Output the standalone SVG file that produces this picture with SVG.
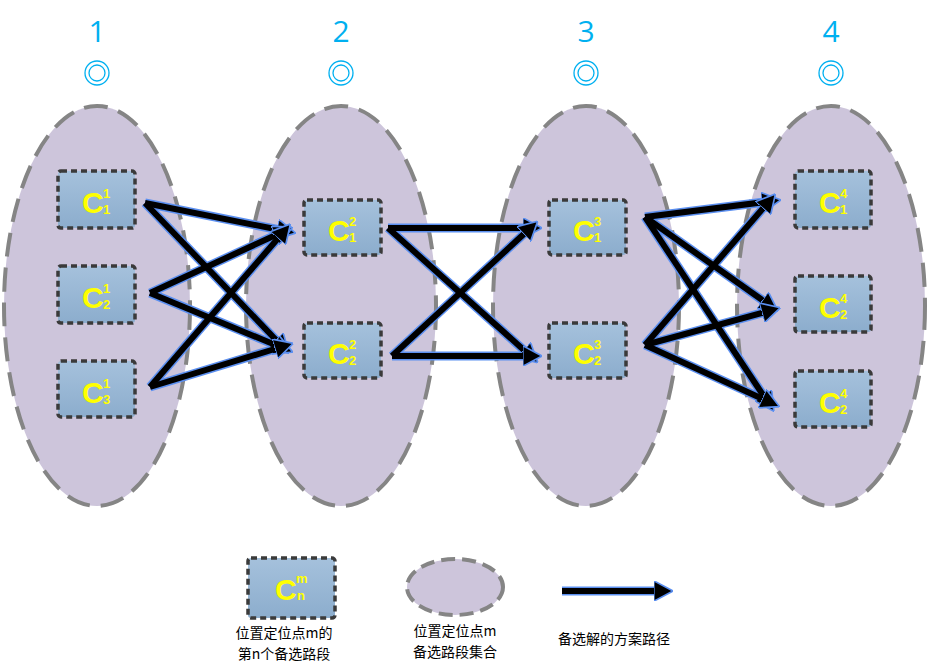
<svg xmlns="http://www.w3.org/2000/svg" width="932" height="666" viewBox="0 0 932 666">
<style>
.el{fill:#cdc5db;stroke:#858585;stroke-width:4;stroke-dasharray:24 11}
.bx{fill:url(#g);stroke:#3a3a3a;stroke-width:3.5;stroke-dasharray:6 4}
.c{font-family:"Liberation Sans",sans-serif;font-weight:bold;fill:#ffff00;font-size:30px}
.s{font-family:"Liberation Sans",sans-serif;font-weight:bold;fill:#ffff00;font-size:13px}
.num{font-family:"Open Sans","Liberation Sans",sans-serif;fill:#00b0f0;font-size:30px;text-anchor:middle}
.ring{fill:none;stroke:#00b0f0;stroke-width:1.3}
.ao{stroke:#5b8ff0;stroke-width:9;fill:none}
.ai{stroke:#000;stroke-width:6;fill:none}
.t{font-family:"Noto Sans CJK SC",sans-serif;font-size:14px;fill:#000;text-anchor:middle}
</style>
<defs>
<linearGradient id="g" x1="0" y1="0" x2="0" y2="1"><stop offset="0" stop-color="#a5c1dc"/><stop offset="1" stop-color="#8cadcd"/></linearGradient>
<marker id="h" markerWidth="3.2" markerHeight="3.4" refX="1" refY="3" orient="auto" markerUnits="strokeWidth" viewBox="0 0 6 6" preserveAspectRatio="none"><path d="M0,0 L6,3 L0,6 Z" fill="#000" stroke="#5b8ff0" stroke-width="0.5"/></marker>
</defs>
<g id="headers">
<text class="num" x="97" y="42">1</text><circle class="ring" cx="97" cy="73" r="12"/><circle class="ring" cx="97" cy="73" r="8"/>
<text class="num" x="341" y="42">2</text><circle class="ring" cx="341" cy="73" r="12"/><circle class="ring" cx="341" cy="73" r="8"/>
<text class="num" x="586" y="42">3</text><circle class="ring" cx="586" cy="73" r="12"/><circle class="ring" cx="586" cy="73" r="8"/>
<text class="num" x="831" y="42">4</text><circle class="ring" cx="831" cy="73" r="12"/><circle class="ring" cx="831" cy="73" r="8"/>
</g>
<g id="sets">
<ellipse id="set1" class="el" cx="97" cy="306" rx="93" ry="200"/>
<ellipse id="set2" class="el" cx="341" cy="306" rx="95" ry="200"/>
<ellipse id="set3" class="el" cx="586" cy="306" rx="93" ry="200"/>
<ellipse id="set4" class="el" cx="831" cy="306" rx="94" ry="200"/>
</g>
<g id="nodes">
<g id="c11"><rect class="bx" x="58" y="171" width="77" height="57" rx="3"/><text class="c" x="82" y="213">C</text><text class="s" x="103" y="198">1</text><text class="s" x="103" y="214">1</text></g>
<g id="c12"><rect class="bx" x="58" y="266" width="77" height="57" rx="3"/><text class="c" x="82" y="308">C</text><text class="s" x="103" y="293">1</text><text class="s" x="103" y="309">2</text></g>
<g id="c13"><rect class="bx" x="58" y="361" width="77" height="56" rx="3"/><text class="c" x="82" y="403">C</text><text class="s" x="103" y="388">1</text><text class="s" x="103" y="404">3</text></g>
<g id="c21"><rect class="bx" x="304" y="200" width="77" height="55" rx="3"/><text class="c" x="328" y="241">C</text><text class="s" x="349" y="226">2</text><text class="s" x="349" y="242">1</text></g>
<g id="c22"><rect class="bx" x="304" y="323" width="77" height="55" rx="3"/><text class="c" x="328" y="364">C</text><text class="s" x="349" y="349">2</text><text class="s" x="349" y="365">2</text></g>
<g id="c31"><rect class="bx" x="549" y="200" width="77" height="55" rx="3"/><text class="c" x="573" y="241">C</text><text class="s" x="594" y="226">3</text><text class="s" x="594" y="242">1</text></g>
<g id="c32"><rect class="bx" x="549" y="323" width="77" height="55" rx="3"/><text class="c" x="573" y="364">C</text><text class="s" x="594" y="349">3</text><text class="s" x="594" y="365">2</text></g>
<g id="c41"><rect class="bx" x="795" y="171" width="76" height="57" rx="3"/><text class="c" x="819" y="213">C</text><text class="s" x="840" y="198">4</text><text class="s" x="840" y="214">1</text></g>
<g id="c42"><rect class="bx" x="795" y="276" width="76" height="56" rx="3"/><text class="c" x="819" y="318">C</text><text class="s" x="840" y="303">4</text><text class="s" x="840" y="319">2</text></g>
<g id="c43"><rect class="bx" x="795" y="371" width="76" height="56" rx="3"/><text class="c" x="819" y="413">C</text><text class="s" x="840" y="398">4</text><text class="s" x="840" y="414">2</text></g>
</g>
<g id="connectors">
<g class="ao">
<path d="M145,203 L280,230"/><path d="M145,203 L278,342"/><path d="M150,293 L278,234"/><path d="M150,293 L278,346"/><path d="M150,387 L280,236"/><path d="M150,387 L278,348"/>
<path d="M388,228 L526,228"/><path d="M388,228 L526,352"/><path d="M392,356 L526,232"/><path d="M392,356 L526,356"/>
<path d="M645,217 L765,202"/><path d="M645,217 L765,302"/><path d="M645,217 L765,398"/><path d="M645,345 L765,206"/><path d="M645,345 L765,312"/><path d="M645,345 L765,400"/>
<path d="M562,591 L657,591"/>
</g>
<g class="ai" marker-end="url(#h)">
<path d="M145,203 L280,230"/><path d="M145,203 L278,342"/><path d="M150,293 L278,234"/><path d="M150,293 L278,346"/><path d="M150,387 L280,236"/><path d="M150,387 L278,348"/>
<path d="M388,228 L526,228"/><path d="M388,228 L526,352"/><path d="M392,356 L526,232"/><path d="M392,356 L526,356"/>
<path d="M645,217 L765,202"/><path d="M645,217 L765,302"/><path d="M645,217 L765,398"/><path d="M645,345 L765,206"/><path d="M645,345 L765,312"/><path d="M645,345 L765,400"/>
<path d="M562,591 L657,591"/>
</g>
</g>
<g id="legend">
<g id="leg-node"><rect class="bx" x="248" y="558" width="87" height="60" rx="3"/><text class="c" x="275" y="600">C</text><text class="s" x="296" y="583">m</text><text class="s" x="297" y="600">n</text></g>
<ellipse id="leg-set" class="el" cx="455" cy="587" rx="48" ry="28" style="stroke-dasharray:14 7"/>
<text class="t" x="284" y="638">位置定位点m的</text>
<text class="t" x="284" y="659">第n个备选路段</text>
<text class="t" x="455" y="636">位置定位点m</text>
<text class="t" x="455" y="657">备选路段集合</text>
<text class="t" x="614" y="644">备选解的方案路径</text>
</g>
</svg>
